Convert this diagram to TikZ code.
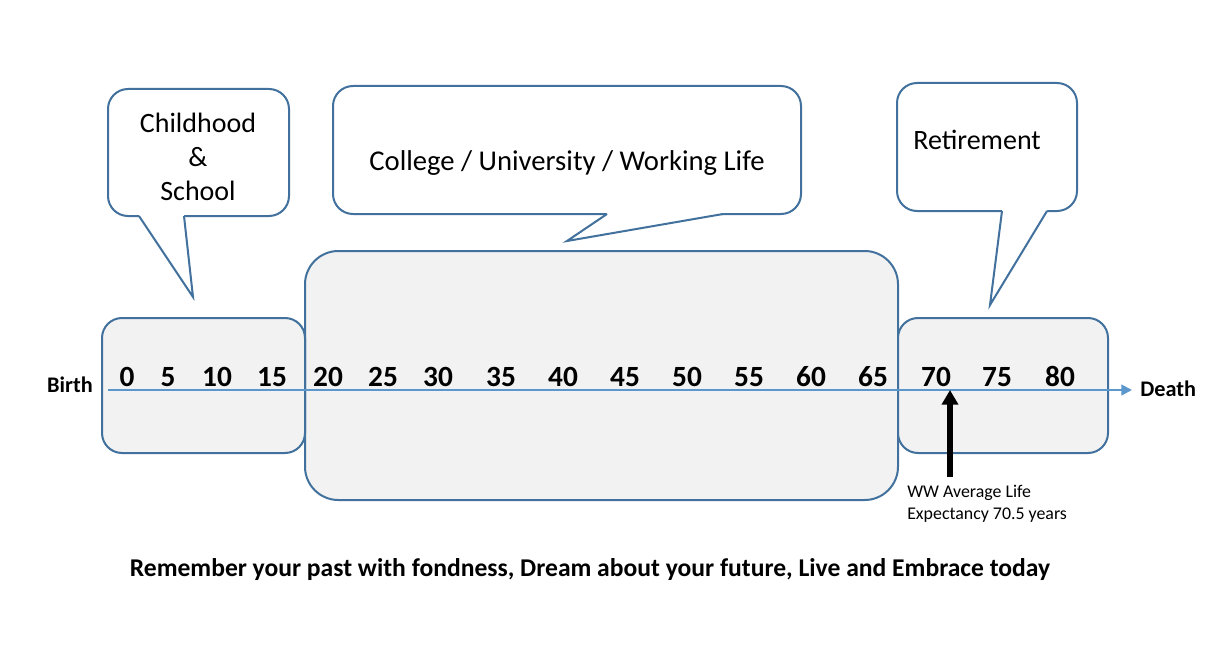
\documentclass[tikz,border=0pt]{standalone}
\usepackage{fontspec}
\setmainfont{Carlito}
\usetikzlibrary{arrows.meta}
\definecolor{boxline}{RGB}{65,113,156}
\definecolor{boxfill}{RGB}{242,242,242}
\definecolor{tline}{RGB}{91,150,205}
\tikzset{
  agebox/.style={draw=boxline, fill=boxfill, line width=1.5pt},
  callbody/.style={draw=boxline, fill=white, line width=1.5pt, rounded corners=15pt},
  calltail/.style={draw=boxline, line width=1.5pt, line join=miter},
  agenum/.style={font=\bfseries\fontsize{22}{26}\selectfont, inner sep=0pt, anchor=base},
  endlabel/.style={font=\bfseries\fontsize{16.7}{20}\selectfont, inner sep=0pt},
  calltext/.style={font=\fontsize{21}{25.5}\selectfont, inner sep=0pt, align=center},
}
\begin{document}
\begin{tikzpicture}[x=0.75pt, y=-0.75pt]
\useasboundingbox[fill=white] (0,0) rectangle (1229,667);

% age boxes
\draw[agebox, rounded corners=25pt] (305,251) rectangle (898,500);
\draw[agebox, rounded corners=15pt] (102,318) rectangle (305,453);
\draw[agebox, rounded corners=15pt] (898,318) rectangle (1108,453);

% callouts: body, then white tail covering the bottom edge, then tail outline
\draw[callbody] (108,89) rectangle (289,216);
\fill[white] (139,216) -- (193,297) -- (184,216) -- (184,212) -- (139,212) -- cycle;
\draw[calltail] (139,216) -- (193,297) -- (184,216);

\draw[callbody] (333,86) rectangle (801,214);
\fill[white] (607,214) -- (567,241) -- (723,214) -- (723,210) -- (607,210) -- cycle;
\draw[calltail] (607,214) -- (567,241) -- (723,214);

\draw[callbody] (897,83) rectangle (1077,211);
\fill[white] (1002,211) -- (990,305) -- (1047,211) -- (1047,207) -- (1002,207) -- cycle;
\draw[calltail] (1002,211) -- (990,305) -- (1047,211);

\node[calltext] (child) at (198,157) {Childhood\\\&\\School};
\node[calltext, font=\fontsize{21.5}{25.5}\selectfont] (college) at (567,163) {College / University / Working Life};
\node[calltext, anchor=west] (retire) at (913,140) {Retirement};

% timeline
\node[endlabel] (birth) at (70,385) {Birth};
\node[endlabel, anchor=west] (death) at (1140,389) {Death};
\coordinate (tstart) at (108,390);
\coordinate (tend) at (1132,390);
\draw[tline, line width=1.6pt, -{Triangle[width=8pt,length=8pt]}] (tstart) -- (tend);

\foreach \v/\x in {0/127,5/168,10/217,15/272,20/328,25/383,30/438,35/501,40/563,45/625,50/687,55/749,60/811,65/873,70/936,75/997,80/1060}
  \node[agenum] (n\v) at (\x,386) {\v};

% life expectancy arrow
\coordinate (lebase) at (950,477);
\coordinate (letip) at (950,390);
\draw[black, line width=3.8pt, -{Triangle[width=12pt,length=11pt]}] (lebase) -- (letip);
\node[font=\fontsize{13.4}{16.5}\selectfont, inner sep=0pt, align=left, anchor=west] (le) at (907,504) {WW Average Life\\Expectancy 70.5 years};

% motto
\node[font=\bfseries\fontsize{19.2}{22}\selectfont, inner sep=0pt] (motto) at (590,570) {Remember your past with fondness, Dream about your future, Live and Embrace today};
\end{tikzpicture}
\end{document}
